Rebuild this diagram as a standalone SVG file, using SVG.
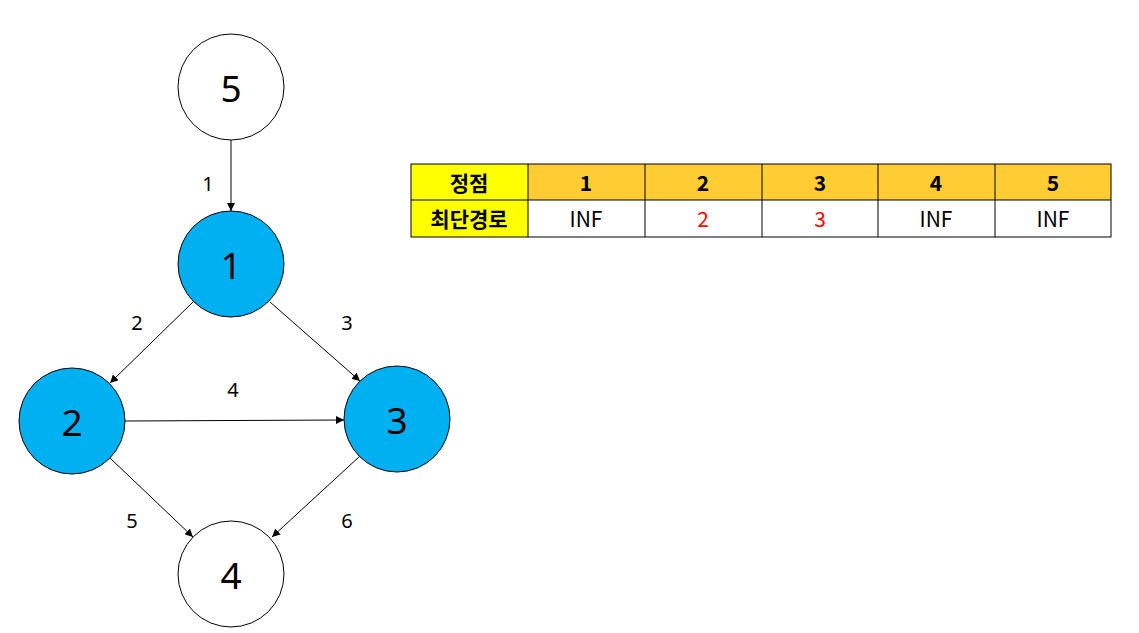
<svg xmlns="http://www.w3.org/2000/svg" width="1139" height="633" viewBox="0 0 1139 633">
<style>
.n{stroke:#000;stroke-width:1}
.w{fill:#fff}
.b{fill:#00B0F0}
.nt{font-family:"Noto Sans","Noto Sans CJK KR",sans-serif;font-size:37px;text-anchor:middle;dominant-baseline:central}
.el{font-family:"Noto Sans","Noto Sans CJK KR",sans-serif;font-size:20px;text-anchor:middle;dominant-baseline:central}
.e{stroke:#000;stroke-width:1;fill:none;marker-end:url(#a)}
.c{stroke:#000;stroke-width:1}
.tt{font-family:"Noto Sans CJK KR","Noto Sans",sans-serif;font-size:21px;text-anchor:middle;dominant-baseline:central}
.hb{font-weight:bold}
</style>
<defs>
<marker id="a" viewBox="0 0 10 10" refX="10" refY="5" markerWidth="8" markerHeight="8" orient="auto" markerUnits="userSpaceOnUse">
<path d="M0,0 L10,5 L0,10 z" fill="#000"/>
</marker>
</defs>
<rect width="1139" height="633" fill="#fff"/>
<g id="connectors">
<line class="e" x1="231" y1="140" x2="231" y2="211"/>
<line class="e" x1="193" y1="302" x2="110" y2="383"/>
<line class="e" x1="270" y1="302" x2="360" y2="381"/>
<line class="e" x1="125" y1="421" x2="344" y2="420"/>
<line class="e" x1="110" y1="458" x2="193" y2="537"/>
<line class="e" x1="360" y1="456" x2="272" y2="537"/>
<text class="el" x="208" y="183">1</text>
<text class="el" x="137" y="322">2</text>
<text class="el" x="347" y="322">3</text>
<text class="el" x="233" y="389">4</text>
<text class="el" x="132" y="520">5</text>
<text class="el" x="347" y="520">6</text>
</g>
<g id="node5"><circle class="n w" cx="231" cy="87" r="53"/><text class="nt" x="231" y="87">5</text></g>
<g id="node1"><circle class="n b" cx="231" cy="264" r="53"/><text class="nt" x="231" y="264">1</text></g>
<g id="node2"><circle class="n b" cx="72" cy="421" r="53"/><text class="nt" x="72" y="421">2</text></g>
<g id="node3"><circle class="n b" cx="397" cy="419" r="53"/><text class="nt" x="397" y="419">3</text></g>
<g id="node4"><circle class="n w" cx="231" cy="574" r="53"/><text class="nt" x="231" y="574">4</text></g>
<g id="table">
<rect x="411" y="164" width="117" height="36" fill="#FFFF00"/>
<rect x="528" y="164" width="583" height="36" fill="#FFCC33"/>
<rect x="411" y="200" width="117" height="37" fill="#FFFF00"/>
<rect x="528" y="200" width="583" height="37" fill="#FFFFFF"/>
<rect x="411" y="164" width="700" height="73" fill="none" class="c"/>
<line class="c" x1="411" y1="200" x2="1111" y2="200"/>
<line class="c" x1="528" y1="164" x2="528" y2="237"/>
<line class="c" x1="645" y1="164" x2="645" y2="237"/>
<line class="c" x1="762" y1="164" x2="762" y2="237"/>
<line class="c" x1="878" y1="164" x2="878" y2="237"/>
<line class="c" x1="995" y1="164" x2="995" y2="237"/>
<text class="tt hb" x="469" y="182">정점</text>
<text class="tt hb" x="586" y="182">1</text>
<text class="tt hb" x="703" y="182">2</text>
<text class="tt hb" x="820" y="182">3</text>
<text class="tt hb" x="936" y="182">4</text>
<text class="tt hb" x="1053" y="182">5</text>
<text class="tt hb" x="469" y="218">최단경로</text>
<text class="tt" x="586" y="218">INF</text>
<text class="tt" x="703" y="218" fill="#FF0000">2</text>
<text class="tt" x="820" y="218" fill="#FF0000">3</text>
<text class="tt" x="936" y="218">INF</text>
<text class="tt" x="1053" y="218">INF</text>
</g>
</svg>
